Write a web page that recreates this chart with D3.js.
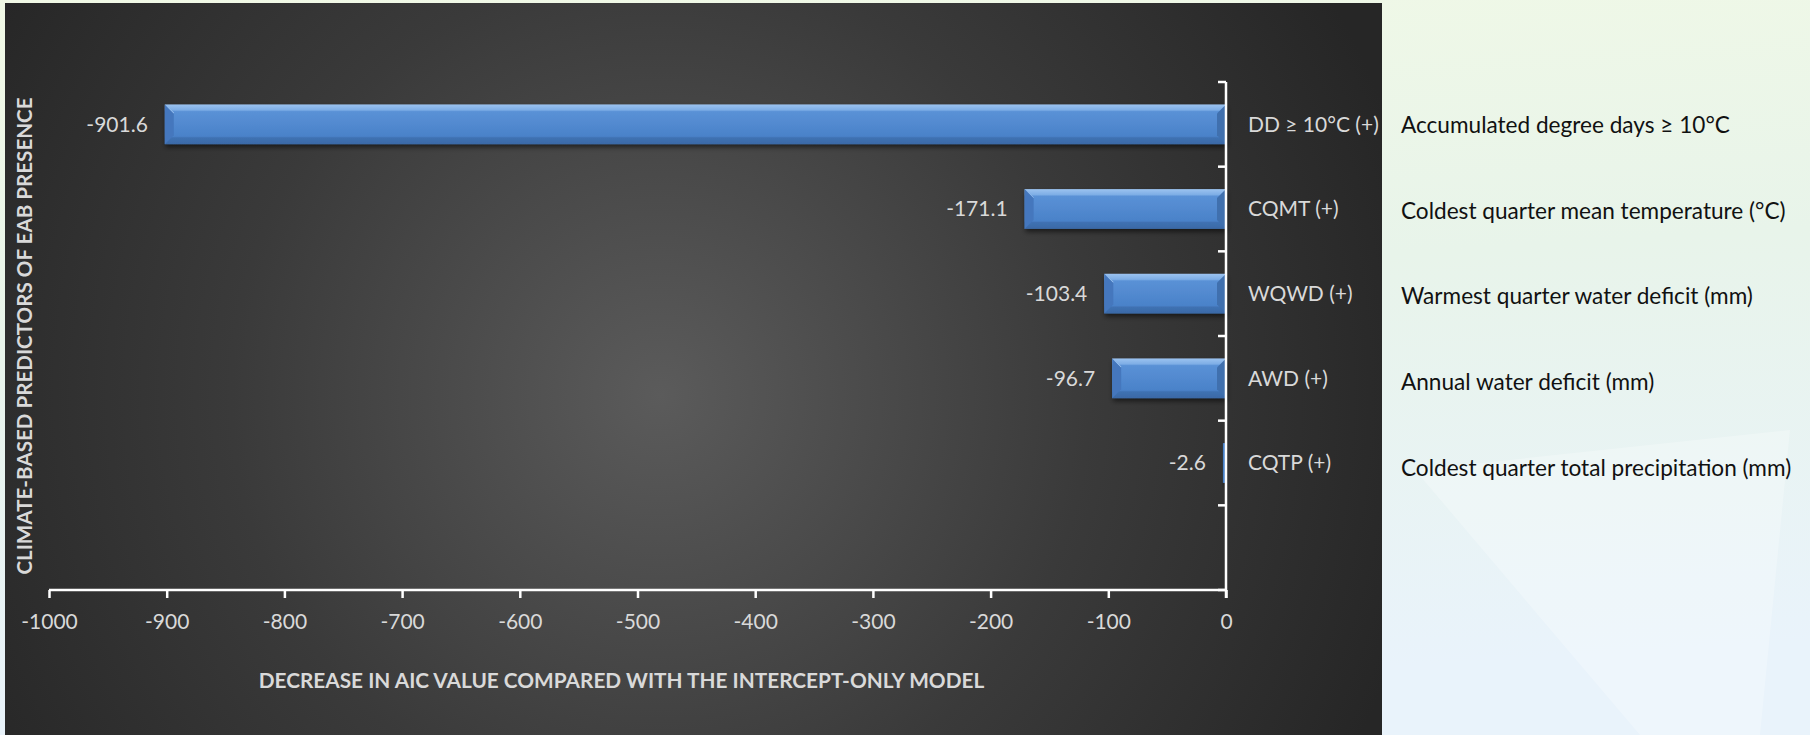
<!DOCTYPE html>
<html>
<head>
<meta charset="utf-8">
<script src="https://cdn.jsdelivr.net/npm/d3@7/dist/d3.min.js"></script>
<style>
  html, body { margin: 0; padding: 0; background: #eef6ee; }
  svg { display: block; }
</style>
</head>
<body>
<svg id="chart" width="1810" height="735"></svg>
<script>
// Climate predictors, ordered top to bottom; the last slot is left empty
const categories = ["DD ≥ 10°C (+)", "CQMT (+)", "WQWD (+)", "AWD (+)", "CQTP (+)", ""];
const descriptions = [
  "Accumulated degree days ≥ 10°C",
  "Coldest quarter mean temperature (°C)",
  "Warmest quarter water deficit (mm)",
  "Annual water deficit (mm)",
  "Coldest quarter total precipitation (mm)"
];
const aicDecrease = [-901.6, -171.1, -103.4, -96.7, -2.6];
const xTicks = [-1000, -900, -800, -700, -600, -500, -400, -300, -200, -100, 0];

const W = 1810, H = 735;
const panel = { x0: 5, y0: 3, x1: 1382, y1: 735 };
const plot = { left: 49, right: 1226, top: 82, bottom: 590 };

const svg = d3.select("#chart");
const defs = svg.append("defs");

// Light slide background on the right
const bgGrad = defs.append("linearGradient").attr("id", "slideBg")
  .attr("x1", 0).attr("y1", 0).attr("x2", 0.15).attr("y2", 1);
bgGrad.append("stop").attr("offset", 0).attr("stop-color", "#f1f9e6");
bgGrad.append("stop").attr("offset", 0.45).attr("stop-color", "#e8f4ea");
bgGrad.append("stop").attr("offset", 1).attr("stop-color", "#e9f3fb");

// Dark chart panel with a soft lighter centre
const panelGrad = defs.append("radialGradient").attr("id", "panelBg")
  .attr("gradientUnits", "userSpaceOnUse")
  .attr("cx", 660).attr("cy", 395).attr("r", 780);
panelGrad.append("stop").attr("offset", 0).attr("stop-color", "#5b5b5b");
panelGrad.append("stop").attr("offset", 0.55).attr("stop-color", "#3a3a3a");
panelGrad.append("stop").attr("offset", 1).attr("stop-color", "#262626");

// Bar body gradient (top highlight to darker bottom)
const barGrad = defs.append("linearGradient").attr("id", "barFill")
  .attr("x1", 0).attr("y1", 0).attr("x2", 0).attr("y2", 1);
barGrad.append("stop").attr("offset", 0).attr("stop-color", "#9cc3f0");
barGrad.append("stop").attr("offset", 0.14).attr("stop-color", "#7eaee6");
barGrad.append("stop").attr("offset", 0.18).attr("stop-color", "#5a91d6");
barGrad.append("stop").attr("offset", 0.8).attr("stop-color", "#4a82c9");
barGrad.append("stop").attr("offset", 0.84).attr("stop-color", "#3f71b2");
barGrad.append("stop").attr("offset", 1).attr("stop-color", "#3a69a6");

const shadow = defs.append("filter").attr("id", "barShadow")
  .attr("x", "-5%").attr("y", "-30%").attr("width", "110%").attr("height", "170%");
shadow.append("feDropShadow").attr("dx", 1).attr("dy", 3)
  .attr("stdDeviation", 2.5).attr("flood-color", "#000").attr("flood-opacity", 0.55);

svg.append("rect").attr("width", W).attr("height", H).attr("fill", "url(#slideBg)");

// Faint decorative shape on the light background
svg.append("path")
  .attr("d", `M1415,470 L1790,430 L1760,735 L1640,735 Z`)
  .attr("fill", "#ffffff").attr("opacity", 0.25);

svg.append("rect")
  .attr("x", panel.x0).attr("y", panel.y0)
  .attr("width", panel.x1 - panel.x0).attr("height", panel.y1 - panel.y0)
  .attr("fill", "url(#panelBg)");

const x = d3.scaleLinear().domain([-1000, 0]).range([plot.left, plot.right]);
const y = d3.scaleBand().domain(categories)
  .range([plot.top, plot.bottom]).paddingInner(0.53).paddingOuter(0.265);
// The descriptive names sit on a slightly wider spacing
const yDesc = d3.scalePoint().domain(descriptions).range([125, 468]);

const FONT = "Lato, 'Open Sans', 'DejaVu Sans', sans-serif";
const LABEL = "#d9d9d9";

// Bars with a bevelled look
const bars = svg.append("g").selectAll("g.bar")
  .data(aicDecrease.map((v, i) => ({ v, c: categories[i] })))
  .join("g").attr("class", "bar").attr("filter", "url(#barShadow)");

bars.each(function (d) {
  const g = d3.select(this);
  const x0 = x(d.v), x1 = x(0), y0 = y(d.c), h = y.bandwidth();
  const w = x1 - x0;
  const b = Math.min(9, w / 2, h / 4);
  if (w <= 6) {
    g.append("rect").attr("x", x0).attr("y", y0).attr("width", w).attr("height", h)
      .attr("fill", "#4a82c9");
    return;
  }
  g.append("rect").attr("x", x0).attr("y", y0).attr("width", w).attr("height", h)
    .attr("fill", "url(#barFill)");
  // left and right bevel faces
  g.append("path")
    .attr("d", `M${x0},${y0} L${x0 + b},${y0 + b} L${x0 + b},${y0 + h - b} L${x0},${y0 + h} Z`)
    .attr("fill", "#4477bd");
  g.append("path")
    .attr("d", `M${x0},${y0} L${x0 + b},${y0 + b} L${x0 + b},${y0 + b * 0.9} Z`)
    .attr("fill", "#a9cdf5");
  g.append("path")
    .attr("d", `M${x1},${y0} L${x1 - b},${y0 + b} L${x1 - b},${y0 + h - b} L${x1},${y0 + h} Z`)
    .attr("fill", "#3f6fae");
});

// Value labels to the left of each bar
svg.append("g").selectAll("text")
  .data(aicDecrease.map((v, i) => ({ v, c: categories[i] })))
  .join("text")
  .attr("x", d => x(d.v) - 17)
  .attr("y", d => y(d.c) + y.bandwidth() / 2)
  .attr("dy", "0.35em")
  .attr("text-anchor", "end")
  .attr("font-family", FONT).attr("font-size", 21)
  .attr("fill", LABEL)
  .text(d => d.v.toFixed(1));

// X axis
const xAxis = svg.append("g").attr("transform", `translate(0,${plot.bottom})`)
  .call(d3.axisBottom(x).tickValues(xTicks).tickSize(8).tickPadding(16).tickFormat(d3.format("d")));
xAxis.select(".domain").attr("stroke", "#ffffff").attr("stroke-width", 2.5)
  .attr("d", `M${plot.left},0H${plot.right}`);
xAxis.selectAll(".tick line").attr("stroke", "#ffffff").attr("stroke-width", 2.5);
xAxis.selectAll(".tick text").attr("font-family", FONT).attr("font-size", 21)
  .attr("fill", LABEL).text(d => d < 0 ? "-" + Math.abs(d) : d);

// Y axis at zero, ticks at band boundaries pointing into the plot
const yAxis = svg.append("g");
yAxis.append("line")
  .attr("x1", x(0)).attr("x2", x(0)).attr("y1", plot.top).attr("y2", plot.bottom + 8)
  .attr("stroke", "#ffffff").attr("stroke-width", 2.5);
const bounds = d3.range(categories.length + 1).map(i => plot.top + i * y.step());
yAxis.selectAll("line.tk").data(bounds).join("line").attr("class", "tk")
  .attr("x1", x(0) - 8).attr("x2", x(0)).attr("y1", d => d).attr("y2", d => d)
  .attr("stroke", "#ffffff").attr("stroke-width", 2.5);

// Category labels beside the axis
svg.append("g").selectAll("text")
  .data(categories.filter(c => c))
  .join("text")
  .attr("x", x(0) + 22)
  .attr("y", d => y(d) + y.bandwidth() / 2)
  .attr("dy", "0.35em")
  .attr("font-family", FONT).attr("font-size", 21)
  .attr("fill", LABEL)
  .text(d => d);

// Full predictor names on the light background
svg.append("g").selectAll("text")
  .data(descriptions)
  .join("text")
  .attr("x", 1401)
  .attr("y", d => yDesc(d))
  .attr("dy", "0.35em")
  .attr("font-family", FONT).attr("font-size", 22.6)
  .attr("fill", "#111111")
  .text(d => d);

// Axis titles
svg.append("text")
  .attr("x", (plot.left + plot.right) / 2 - 16).attr("y", 681)
  .attr("dy", "0.35em").attr("text-anchor", "middle")
  .attr("font-family", FONT).attr("font-size", 20.8).attr("font-weight", "bold")
  .attr("fill", LABEL)
  .text("DECREASE IN AIC VALUE COMPARED WITH THE INTERCEPT-ONLY MODEL");

svg.append("text")
  .attr("transform", `translate(25,${(98 + 574) / 2}) rotate(-90)`)
  .attr("dy", "0.35em").attr("text-anchor", "middle")
  .attr("font-family", FONT).attr("font-size", 20.6).attr("font-weight", "bold")
  .attr("fill", LABEL)
  .text("CLIMATE-BASED PREDICTORS OF EAB PRESENCE");
</script>
</body>
</html>
